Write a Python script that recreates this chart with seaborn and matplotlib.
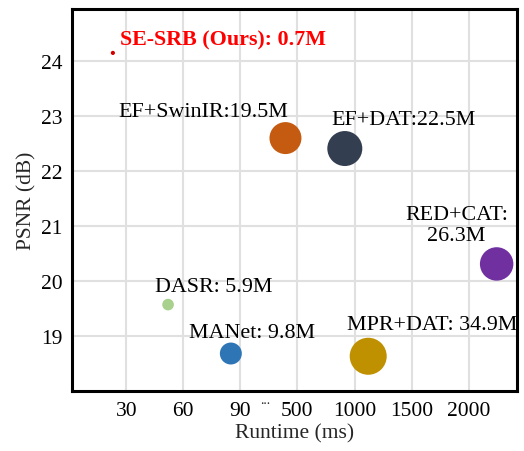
"""PSNR vs runtime bubble chart, bubble size ~ parameter count."""
import numpy as np
import pandas as pd
import seaborn as sns
import matplotlib.pyplot as plt

# data
models = ["SE-SRB (Ours)", "DASR", "MANet", "EF+SwinIR", "EF+DAT", "MPR+DAT", "RED+CAT"]
runtime_ms = [23, 52, 85, 414, 915, 1120, 2245]
psnr_db = [24.15, 19.57, 18.68, 22.60, 22.41, 18.63, 20.31]
params_m = [0.7, 5.9, 9.8, 19.5, 22.5, 34.9, 26.3]
labels = ["SE-SRB (Ours): 0.7M", "DASR: 5.9M", "MANet: 9.8M", "EF+SwinIR:19.5M",
          "EF+DAT:22.5M", "MPR+DAT: 34.9M", "RED+CAT:\n26.3M"]
x_ticks = [30, 60, 90, 500, 1000, 1500, 2000]
y_ticks = [19, 20, 21, 22, 23, 24]

df = pd.DataFrame({"model": models, "runtime": runtime_ms, "psnr": psnr_db,
                   "params": params_m, "label": labels})

# styles
colors = {"SE-SRB (Ours)": "#d00000", "DASR": "#a9d18e", "MANet": "#2e75b6",
          "EF+SwinIR": "#c55a11", "EF+DAT": "#333f50", "MPR+DAT": "#bf9000",
          "RED+CAT": "#7030a0"}
sizes = {"SE-SRB (Ours)": 9, "DASR": 70, "MANet": 250, "EF+SwinIR": 530,
         "EF+DAT": 635, "MPR+DAT": 710, "RED+CAT": 580}
# label offsets (points) from each bubble centre
offsets = {"SE-SRB (Ours)": (5, 10), "DASR": (33, 13), "MANet": (15, 15),
           "EF+SwinIR": (-59, 19), "EF+DAT": (42, 21), "MPR+DAT": (46, 23),
           "RED+CAT": (-29, 28)}

sns.set_style("whitegrid")
plt.rcParams["font.family"] = ["Liberation Serif", "DejaVu Serif"]

fig = plt.figure(figsize=(5.24, 4.52), dpi=100)
ax = fig.add_axes([0.137, 0.133, 0.85, 0.845])

# broken x axis: equal spacing between the tick values
xp = [0] + x_ticks + [2500]
fp = list(range(-1, len(x_ticks) + 1))
ax.set_xscale("function", functions=(lambda v: np.interp(v, xp, fp),
                                     lambda v: np.interp(v, fp, xp)))

sns.scatterplot(data=df, x="runtime", y="psnr", hue="model", size="model",
                palette=colors, sizes=sizes, linewidth=0, legend=False, ax=ax,
                zorder=3)

for _, r in df.iterrows():
    bold = r["model"].startswith("SE-SRB")
    ax.annotate(r["label"], (r["runtime"], r["psnr"]), xytext=offsets[r["model"]],
                textcoords="offset points", ha="left" if bold else "center",
                va="center", fontsize=15.8, linespacing=1.2,
                color="#ff0000" if bold else "black",
                fontweight="bold" if bold else "normal")

ax.set_xlim(1.4, 2425)
ax.set_ylim(18.0, 24.95)
ax.set_xticks(x_ticks)
ax.set_xticklabels([str(v) for v in x_ticks])
ax.set_yticks(y_ticks)
ax.minorticks_off()
ax.text(268, -0.022, "...", transform=ax.get_xaxis_transform(), ha="center",
        va="center", fontsize=10)

ax.grid(True, color="#e0e0e0", linewidth=1.5)
for s in ax.spines.values():
    s.set_color("black")
    s.set_linewidth(2.2)
ax.tick_params(axis="both", direction="inout", width=2.6, colors="black",
               labelsize=15.5, pad=2)
ax.tick_params(axis="x", length=11)
ax.tick_params(axis="y", length=9.5)

ax.set_xlabel("Runtime (ms)", fontsize=15.5, labelpad=2)
ax.set_ylabel("PSNR (dB)", fontsize=15.5, labelpad=3)

plt.savefig("out.png", dpi=100)
